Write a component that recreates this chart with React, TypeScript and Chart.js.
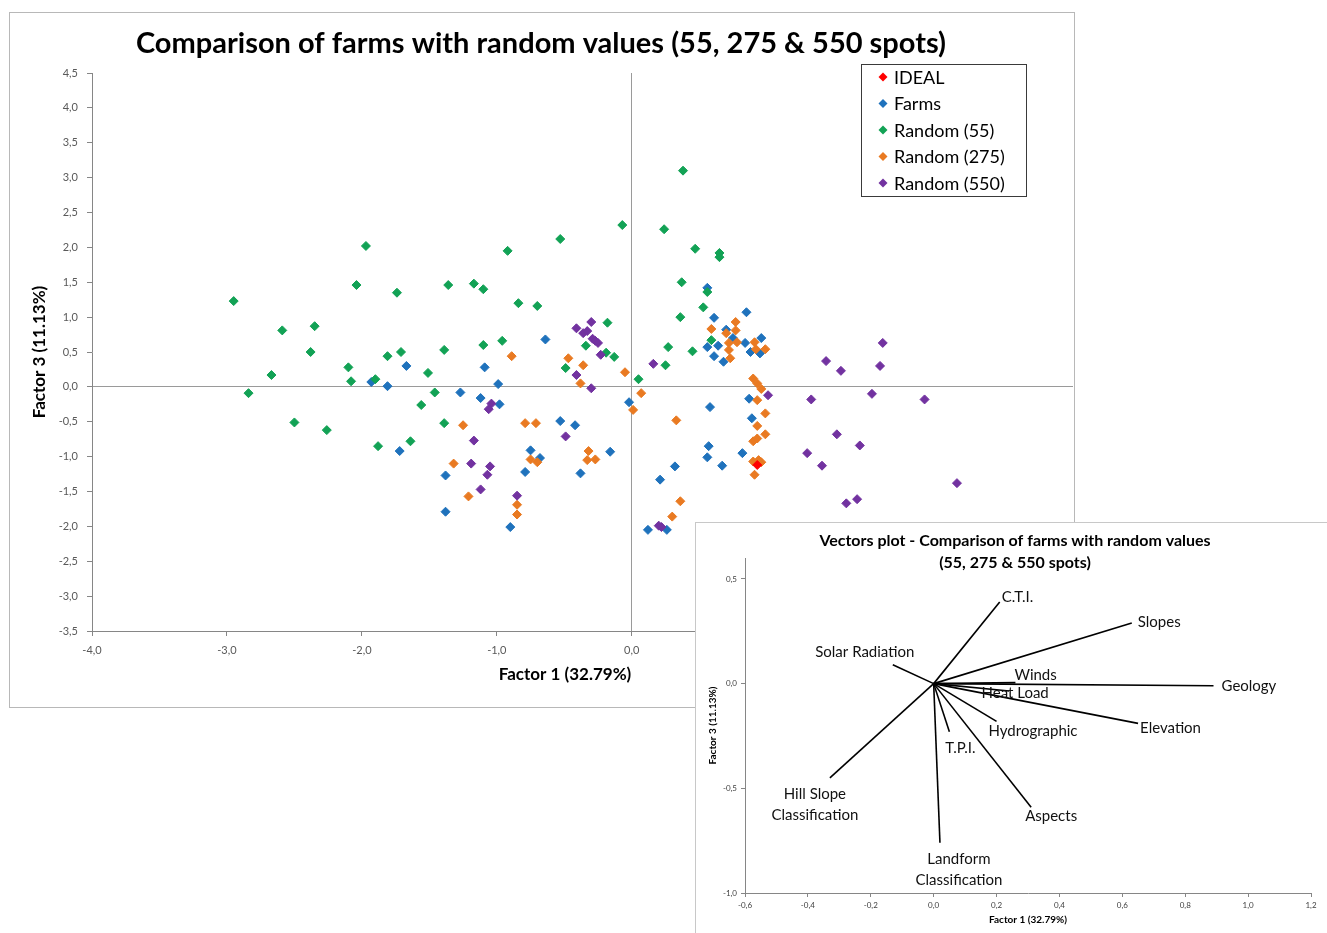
import React, { useEffect, useRef } from 'react';
import { Chart, registerables } from 'chart.js';

Chart.register(...registerables);

const FONT = 'Lato, "Open Sans", sans-serif';

// ---- Scores on factors 1 and 3 ----
const seriesNames = ['IDEAL', 'Farms', 'Random (55)', 'Random (275)', 'Random (550)'];
const seriesColors = ['#FF0000', '#1F72BC', '#12A255', '#E97A22', '#7232A0'];

const ideal: [number, number][] = [[0.93, -1.12]];

const farms: [number, number][] = [
  [-1.93, 0.07], [-1.81, 0.01], [-1.67, 0.30], [-1.72, -0.92], [-1.38, -1.27], [-1.38, -1.79],
  [-1.27, -0.08], [-1.12, -0.16], [-1.09, 0.28], [-0.99, 0.04], [-0.98, -0.25], [-0.64, 0.68],
  [-0.53, -0.49], [-0.42, -0.55], [-0.75, -0.91], [-0.68, -1.02], [-0.79, -1.22], [-0.38, -1.24],
  [-0.16, -0.93], [-0.90, -2.01], [-0.02, -0.22], [0.12, -2.05], [0.26, -2.05], [0.21, -1.33],
  [0.32, -1.14], [0.56, 1.42], [0.85, 1.07], [0.61, 0.99], [0.70, 0.82], [0.56, 0.57],
  [0.64, 0.59], [0.61, 0.44], [0.68, 0.36], [0.84, 0.63], [0.88, 0.50], [0.96, 0.70],
  [0.95, 0.48], [0.75, 0.70], [0.87, -0.17], [0.58, -0.29], [0.89, -0.45], [0.57, -0.85],
  [0.56, -1.01], [0.67, -1.13], [0.82, -0.95],
];

const random55: [number, number][] = [
  [-2.95, 1.23], [-2.84, -0.09], [-2.67, 0.17], [-2.59, 0.81], [-2.50, -0.51], [-2.38, 0.50],
  [-2.35, 0.87], [-2.26, -0.62], [-2.10, 0.28], [-2.08, 0.08], [-2.04, 1.46], [-1.97, 2.02],
  [-1.90, 0.11], [-1.88, -0.85], [-1.81, 0.44], [-1.74, 1.35], [-1.71, 0.50], [-1.64, -0.78],
  [-1.51, 0.20], [-1.56, -0.26], [-1.46, -0.08], [-1.39, 0.53], [-1.39, -0.52], [-1.36, 1.46],
  [-1.17, 1.48], [-1.10, 1.40], [-1.10, 0.60], [-0.96, 0.66], [-0.92, 1.95], [-0.84, 1.20],
  [-0.70, 1.16], [-0.53, 2.12], [-0.49, 0.27], [-0.34, 0.59], [-0.18, 0.92], [-0.19, 0.49],
  [-0.13, 0.43], [-0.07, 2.32], [0.05, 0.11], [0.38, 3.10], [0.24, 2.26], [0.47, 1.98],
  [0.65, 1.92], [0.65, 1.86], [0.37, 1.50], [0.56, 1.36], [0.53, 1.14], [0.36, 1.00],
  [0.27, 0.57], [0.45, 0.51], [0.25, 0.31], [0.59, 0.67],
];

const random275: [number, number][] = [
  [-1.25, -0.55], [-1.32, -1.10], [-1.21, -1.57], [-0.89, 0.44], [-0.79, -0.52], [-0.71, -0.52],
  [-0.75, -1.04], [-0.70, -1.08], [-0.85, -1.69], [-0.85, -1.83], [-0.47, 0.41], [-0.36, 0.31],
  [-0.38, 0.05], [-0.32, -0.92], [-0.33, -1.05], [-0.27, -1.04], [-0.05, 0.21], [0.01, -0.33],
  [0.07, -0.09], [0.33, -0.48], [0.36, -1.64], [0.30, -1.86], [0.59, 0.83], [0.77, 0.93],
  [0.77, 0.81], [0.70, 0.77], [0.72, 0.63], [0.78, 0.64], [0.72, 0.53], [0.73, 0.41],
  [0.91, 0.64], [0.92, 0.54], [0.99, 0.54], [0.90, 0.12], [0.93, 0.05], [0.96, -0.03],
  [0.93, -0.19], [0.99, -0.38], [0.93, -0.56], [0.99, -0.68], [0.90, -0.78], [0.93, -0.74],
  [0.90, -1.07], [0.96, -1.08], [0.91, -1.26], [0.94, -1.05],
];

const random550: [number, number][] = [
  [-0.30, 0.93], [-0.41, 0.84], [-0.36, 0.77], [-0.33, 0.80], [-0.29, 0.69], [-0.27, 0.66],
  [-0.25, 0.63], [-0.23, 0.46], [-0.41, 0.17], [-0.30, -0.02], [-1.04, -0.24], [-1.06, -0.32],
  [-1.17, -0.77], [-0.49, -0.71], [-1.19, -1.10], [-1.05, -1.14], [-1.07, -1.26], [-1.12, -1.47],
  [-0.85, -1.56], [0.16, 0.33], [1.01, -0.12], [0.20, -1.99], [0.22, -2.01], [1.86, 0.63],
  [1.44, 0.37], [1.55, 0.23], [1.84, 0.30], [1.33, -0.18], [1.78, -0.10], [2.17, -0.18],
  [1.52, -0.68], [1.69, -0.84], [1.30, -0.95], [1.41, -1.13], [2.41, -1.38], [1.59, -1.67],
  [1.67, -1.61],
];

const seriesPoints = [ideal, farms, random55, random275, random550];
// later series sit on top of earlier ones, IDEAL above everything
const seriesOrder = [0, 4, 3, 2, 1];

// ---- Variable loadings (vectors plot) ----
const vectorNames = [
  'C.T.I.', 'Slopes', 'Solar Radiation', 'Winds', 'Geology', 'Heat Load', 'Elevation',
  'Hydrographic', 'T.P.I.', 'Aspects', 'Landform\nClassification', 'Hill Slope\nClassification',
];
const vectorX = [0.21, 0.63, -0.13, 0.26, 0.89, 0.24, 0.65, 0.20, 0.05, 0.31, 0.02, -0.33];
const vectorY = [0.39, 0.29, 0.09, 0.005, -0.01, -0.035, -0.19, -0.18, -0.23, -0.59, -0.76, -0.45];

// label placement around each vector tip (pixels)
const vectorLabelPlacement: { dx: number; dy: number; align: CanvasTextAlign }[] = [
  { dx: 2, dy: -5, align: 'left' },
  { dx: 6, dy: -1, align: 'left' },
  { dx: -28, dy: -13, align: 'center' },
  { dx: -1, dy: -7, align: 'left' },
  { dx: 8, dy: 0, align: 'left' },
  { dx: 6, dy: 2, align: 'center' },
  { dx: 2, dy: 5, align: 'left' },
  { dx: -8, dy: 10, align: 'left' },
  { dx: 11, dy: 16, align: 'center' },
  { dx: 20, dy: 9, align: 'center' },
  { dx: 19, dy: 16, align: 'center' },
  { dx: -15, dy: 16, align: 'center' },
];

const fmt = (v: number) => {
  const n = Math.abs(v) < 1e-9 ? 0 : v;
  return n.toFixed(1).replace('.', ',');
};

const onStep = (step: number) => (scale: any) => {
  scale.ticks = scale.ticks.filter((t: any) => {
    const r = t.value / step;
    return Math.abs(r - Math.round(r)) < 1e-6;
  });
};

const mainDecor = {
  id: 'mainDecor',
  afterDraw(chart: any) {
    const ctx = chart.ctx as CanvasRenderingContext2D;
    ctx.save();
    ctx.fillStyle = '#000';
    ctx.textBaseline = 'middle';
    ctx.textAlign = 'center';
    ctx.font = `bold 29px ${FONT}`;
    ctx.fillText('Comparison of farms with random values (55, 275 & 550 spots)', 531, 31);

    ctx.font = `bold 17px ${FONT}`;
    ctx.fillText('Factor 1 (32.79%)', 555, 662);
    ctx.save();
    ctx.translate(30, (chart.chartArea.top + chart.chartArea.bottom) / 2);
    ctx.rotate(-Math.PI / 2);
    ctx.fillText('Factor 3 (11.13%)', 0, 0);
    ctx.restore();

    // legend
    const bx = 851, by = 51, bw = 165, bh = 132;
    ctx.fillStyle = '#fff';
    ctx.fillRect(bx, by, bw, bh);
    ctx.strokeStyle = '#3a3a3a';
    ctx.lineWidth = 1;
    ctx.strokeRect(bx + 0.5, by + 0.5, bw, bh);
    ctx.textAlign = 'left';
    ctx.font = `18px ${FONT}`;
    seriesNames.forEach((name, i) => {
      const cy = by + 13 + i * 26.5;
      const cx = 873;
      ctx.fillStyle = seriesColors[i];
      ctx.beginPath();
      ctx.moveTo(cx, cy - 4.5);
      ctx.lineTo(cx + 4.5, cy);
      ctx.lineTo(cx, cy + 4.5);
      ctx.lineTo(cx - 4.5, cy);
      ctx.closePath();
      ctx.fill();
      ctx.fillStyle = '#000';
      ctx.fillText(name, 884, cy + 1);
    });
    ctx.restore();
  },
};

const insetDecor = {
  id: 'insetDecor',
  afterDraw(chart: any) {
    const ctx = chart.ctx as CanvasRenderingContext2D;
    const xs = chart.scales.x;
    const ys = chart.scales.y;
    ctx.save();
    ctx.fillStyle = '#000';
    ctx.textBaseline = 'middle';
    ctx.textAlign = 'center';
    ctx.font = `bold 16px ${FONT}`;
    ctx.fillText('Vectors plot - Comparison of farms with random values', 319, 18);
    ctx.fillText('(55, 275 & 550 spots)', 319, 40);

    ctx.font = `bold 10px ${FONT}`;
    ctx.fillText('Factor 1 (32.79%)', (chart.chartArea.left + chart.chartArea.right) / 2, 397);
    ctx.save();
    ctx.translate(17, (chart.chartArea.top + chart.chartArea.bottom) / 2);
    ctx.rotate(-Math.PI / 2);
    ctx.fillText('Factor 3 (11.13%)', 0, 0);
    ctx.restore();

    ctx.font = `15px ${FONT}`;
    ctx.fillStyle = '#111';
    vectorNames.forEach((name, i) => {
      const px = xs.getPixelForValue(vectorX[i]);
      const py = ys.getPixelForValue(vectorY[i]);
      const p = vectorLabelPlacement[i];
      ctx.textAlign = p.align;
      name.split('\n').forEach((line, k) => {
        ctx.fillText(line, px + p.dx, py + p.dy + k * 21.3);
      });
    });
    ctx.restore();
  },
};

export default function App() {
  const mainRef = useRef<HTMLCanvasElement>(null);
  const insetRef = useRef<HTMLCanvasElement>(null);

  useEffect(() => {
    document.body.style.overflow = 'hidden';

    const datasets = seriesNames.map((name, i) => ({
      label: name,
      data: seriesPoints[i].map(([x, y]) => ({ x, y })),
      backgroundColor: seriesColors[i],
      borderColor: seriesColors[i],
      borderWidth: 1,
      pointStyle: 'rectRot',
      pointRadius: 4.5,
      order: seriesOrder[i],
    }));

    const main = new Chart(mainRef.current!, {
      type: 'scatter',
      data: { datasets },
      options: {
        responsive: false,
        animation: false,
        events: [],
        layout: { autoPadding: false, padding: { top: 60, right: 1, left: 0, bottom: 0 } },
        plugins: { legend: { display: false }, tooltip: { enabled: false }, title: { display: false } },
        scales: {
          x: {
            type: 'linear',
            min: -4,
            max: 3.27,
            afterBuildTicks: onStep(1),
            afterFit: (s: any) => { s.height = 76; },
            ticks: {
              stepSize: 1,
              padding: 8,
              color: '#595959',
              font: { family: FONT, size: 11 },
              maxRotation: 0,
              autoSkip: false,
              callback: (v: any) => fmt(Number(v)),
            },
            grid: {
              color: (c: any) => (c.tick && Math.abs(c.tick.value) < 1e-9 ? '#9a9a9a' : 'rgba(0,0,0,0)'),
              tickColor: '#868686',
              tickLength: 5,
            },
            border: { color: '#868686', width: 1 },
          },
          y: {
            type: 'linear',
            min: -3.5,
            max: 4.5,
            afterBuildTicks: onStep(0.5),
            afterFit: (s: any) => { s.width = 82; },
            ticks: {
              stepSize: 0.5,
              padding: 9,
              color: '#595959',
              font: { family: FONT, size: 11 },
              autoSkip: false,
              callback: (v: any) => fmt(Number(v)),
            },
            grid: {
              color: (c: any) => (c.tick && Math.abs(c.tick.value) < 1e-9 ? '#9a9a9a' : 'rgba(0,0,0,0)'),
              tickColor: '#868686',
              tickLength: 5,
            },
            border: { color: '#868686', width: 1 },
          },
        },
      } as any,
      plugins: [mainDecor],
    });

    const vectorSets = vectorNames.map((name, i) => ({
      label: name,
      data: [{ x: 0, y: 0 }, { x: vectorX[i], y: vectorY[i] }],
      showLine: true,
      borderColor: '#000',
      backgroundColor: '#000',
      borderWidth: 1.6,
      pointRadius: 0,
    }));

    const inset = new Chart(insetRef.current!, {
      type: 'scatter',
      data: { datasets: vectorSets },
      options: {
        responsive: false,
        animation: false,
        events: [],
        layout: { padding: { top: 35, right: 16, left: 0, bottom: 0 } },
        plugins: { legend: { display: false }, tooltip: { enabled: false }, title: { display: false } },
        scales: {
          x: {
            type: 'linear',
            min: -0.6,
            max: 1.2,
            afterBuildTicks: onStep(0.2),
            afterFit: (s: any) => { s.height = 40; },
            ticks: {
              stepSize: 0.2,
              padding: 4,
              color: '#404040',
              font: { family: FONT, size: 8 },
              maxRotation: 0,
              autoSkip: false,
              callback: (v: any) => fmt(Number(v)),
            },
            grid: { display: true, drawOnChartArea: false, tickColor: '#868686', tickLength: 4 },
            border: { color: '#868686', width: 1 },
          },
          y: {
            type: 'linear',
            min: -1,
            max: 0.6,
            afterBuildTicks: onStep(0.5),
            afterFit: (s: any) => { s.width = 49; },
            ticks: {
              stepSize: 0.5,
              padding: 4,
              color: '#404040',
              font: { family: FONT, size: 8 },
              autoSkip: false,
              callback: (v: any) => fmt(Number(v)),
            },
            grid: { display: true, drawOnChartArea: false, tickColor: '#868686', tickLength: 4 },
            border: { color: '#868686', width: 1 },
          },
        },
      } as any,
      plugins: [insetDecor],
    });

    return () => {
      main.destroy();
      inset.destroy();
    };
  }, []);

  return (
    <>
      <div
        style={{
          position: 'absolute',
          left: 9,
          top: 12,
          width: 1066,
          height: 696,
          border: '1px solid #b8b8b8',
          boxSizing: 'border-box',
          background: '#fff',
        }}
      >
        <canvas ref={mainRef} width={1064} height={694} style={{ display: 'block' }} />
      </div>
      <div
        style={{
          position: 'absolute',
          left: 695,
          top: 522,
          width: 632,
          height: 411,
          borderTop: '1px solid #c8c8c8',
          borderLeft: '1px solid #c8c8c8',
          boxSizing: 'border-box',
          background: '#fff',
        }}
      >
        <canvas ref={insetRef} width={631} height={410} style={{ display: 'block' }} />
      </div>
    </>
  );
}
